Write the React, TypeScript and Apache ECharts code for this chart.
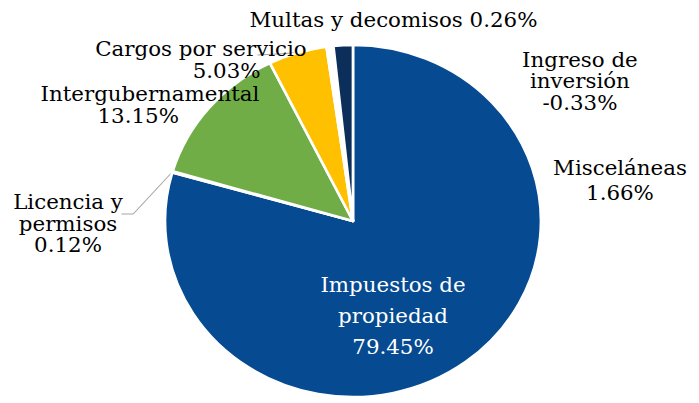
import React, { useEffect, useRef } from "react";
import * as echarts from "echarts";

// ---- data ----
const categories = [
  "Impuestos de propiedad",
  "Licencia y permisos",
  "Intergubernamental",
  "Cargos por servicio",
  "Multas y decomisos",
  "Ingreso de inversión",
  "Misceláneas",
];
const labelNames = [
  "Impuestos de\npropiedad",
  "Licencia y\npermisos",
  "Intergubernamental",
  "Cargos por servicio",
  "Multas y decomisos",
  "Ingreso de\ninversión",
  "Misceláneas",
];
const shares = [79.45, 0.12, 13.15, 5.03, 0.26, -0.33, 1.66];

// ---- styles ----
const colors = ["#064A91", "#FFFFFF", "#70AD47", "#FFC000", "#FFFFFF", "#FFFFFF", "#0B2E5A"];
const STRETCH = 1.068; // reference is horizontally stretched
const W = 699 / STRETCH;
const H = 403;
const CX = 330.5;
const CY = 221;
const R = 176;
// label block centres (chart px, unstretched)
const labelAnchors: [number, number][] = [
  [368, 316],
  [63.7, 224],
  [140.4, 105],
  [188.2, 60],
  [368.4, 20],
  [543, 81.5],
  [580.5, 180.5],
];
const lineHeights = [31, 21.5, 22, 21.5, 20, 21.5, 25];
const pctPadding: number[][] = [
  [0, 0, 0, 0],
  [0, 0, 0, 0],
  [0, 22, 0, 0],
  [0, 0, 0, 48],
  [0, 0, 0, 0],
  [0, 0, 0, 0],
  [0, 0, 0, 0],
];
const singleLine = [false, false, false, false, true, false, false];
const leader = [false, true, false, true, false, false, false];

function midPoint(i: number): [number, number] {
  const abs = shares.map((v) => Math.abs(v));
  const total = abs.reduce((a, b) => a + b, 0);
  let before = 0;
  for (let k = 0; k < i; k++) before += abs[k];
  const frac = (before + abs[i] / 2) / total;
  const ang = frac * Math.PI * 2;
  return [CX + R * Math.sin(ang), CY - R * Math.cos(ang)];
}

export default function App() {
  const ref = useRef<HTMLDivElement>(null);
  useEffect(() => {
    if (!ref.current) return;
    const chart = echarts.init(ref.current, undefined, { renderer: "svg" });
    const data = categories.map((name, i) => {
      const pct = `${shares[i].toFixed(2)}%`;
      const lh = lineHeights[i];
      const formatter = singleLine[i]
        ? `{n|${labelNames[i]} ${pct}}`
        : `{n|${labelNames[i]}}\n{p|${pct}}`;
      return {
        name,
        value: Math.abs(shares[i]),
        itemStyle: { color: colors[i] },
        label: {
          show: true,
          position: i === 0 ? "inside" : "outside",
          formatter,
          color: i === 0 ? "#FFFFFF" : "#000000",
          rich: {
            n: { lineHeight: lh, fontSize: 20, fontFamily: "DejaVu Serif", color: i === 0 ? "#FFFFFF" : "#000000" },
            p: {
              lineHeight: lh,
              fontSize: 20,
              fontFamily: "DejaVu Serif",
              color: i === 0 ? "#FFFFFF" : "#000000",
              padding: pctPadding[i],
            },
          },
        },
        labelLine: {
          show: leader[i],
          lineStyle: { color: "#A6A6A6", width: 1 },
        },
      };
    });
    chart.setOption({
      animation: false,
      series: [
        {
          type: "pie",
          center: [CX, CY],
          radius: R,
          startAngle: 90,
          clockwise: true,
          avoidLabelOverlap: false,
          silent: true,
          itemStyle: { borderColor: "#FFFFFF", borderWidth: 2.5 },
          label: { fontSize: 20, fontFamily: "DejaVu Serif" },
          emphasis: { disabled: true },
          data,
          labelLayout: (params: any) => {
            const i = params.dataIndex;
            const [x, y] = labelAnchors[i];
            const res: any = { x, y, align: "center", verticalAlign: "middle", hideOverlap: false };
            if (leader[i]) {
              const start = midPoint(i);
              if (i === 1) {
                res.labelLinePoints = [start, [x + 61, y - 10], [x + 50, y - 10]];
              } else {
                res.labelLinePoints = [start, [(start[0] + 241) / 2, (start[1] + 55) / 2], [241, 55]];
              }
            }
            return res;
          },
        },
      ],
    });
    return () => chart.dispose();
  }, []);
  return (
    <div
      ref={ref}
      style={{
        position: "absolute",
        left: 0,
        top: 0,
        width: W,
        height: H,
        transform: `scaleX(${STRETCH})`,
        transformOrigin: "0 0",
        background: "#FFFFFF",
      }}
    />
  );
}
